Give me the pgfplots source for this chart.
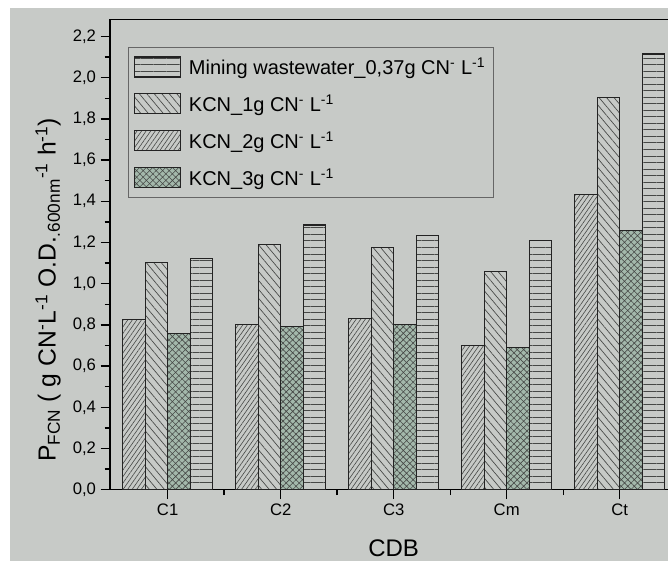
\documentclass[border=0pt]{standalone}
\usepackage{pgfplots}
\pgfplotsset{compat=1.18}
\usetikzlibrary{patterns.meta}
\usepackage{fontspec}
\setmainfont{Liberation Sans}
\definecolor{bg}{RGB}{199,202,199}
\definecolor{xfill}{RGB}{163,184,171}
\definecolor{hl}{RGB}{70,72,70}
\definecolor{edge}{RGB}{35,35,35}
\begin{document}
\begin{tikzpicture}
\useasboundingbox (0,0) rectangle (501pt,420.75pt);
\fill[white] (0,0) rectangle (501pt,420.75pt);
\fill[bg] (7.5pt,0) rectangle (501pt,414.75pt);
\clip (0,0) rectangle (501pt,420.75pt);
\begin{axis}[
  at={(82.5pt,53.5pt)}, anchor=south west,
  scale only axis, width=425.5pt, height=352.7pt,
  xmin=-0.51, xmax=4.51, ymin=0, ymax=2.283,
  axis line style={line width=1.1pt, black},
  xtick={0,1,2,3,4}, xticklabels={C1,C2,C3,Cm,Ct},
  minor xtick={0.5,1.5,2.5,3.5},
  ytick={0,0.2,0.4,0.6,0.8,1.0,1.2,1.4,1.6,1.8,2.0,2.2},
  minor ytick={0.1,0.3,0.5,0.7,0.9,1.1,1.3,1.5,1.7,1.9,2.1},
  tick align=outside, xtick pos=left, ytick pos=left,
  major tick length=7pt, minor tick length=4pt,
  every tick/.style={line width=1pt, black},
  every minor tick/.style={line width=1pt, black},
  yticklabel style={/pgf/number format/.cd, fixed, fixed zerofill, precision=1, use comma, assume math mode=true},
  every tick label/.append style={font=\fontsize{12.5}{14}\selectfont},
  xlabel={CDB},
  every axis x label/.style={at={(axis description cs:0.5,0)}, anchor=center, yshift=-44pt, font=\fontsize{18}{20}\selectfont},
  ylabel={P\textsubscript{FCN} ( g CN\textsuperscript{-}L\textsuperscript{-1} O.D.\textsubscript{.600nm}\textsuperscript{-1} h\textsuperscript{-1})},
  every axis y label/.style={at={(axis description cs:-0.109,0.425)}, rotate=90, anchor=center, font=\fontsize{18.5}{20}\selectfont},
  legend style={at={(axis description cs:0.0317,0.941)}, anchor=north west, draw=black!60, fill=none, line width=0.8pt,
    font=\fontsize{15}{18}\selectfont, row sep=9.75pt, column sep=4pt, inner xsep=4pt, inner ysep=5.5pt, cells={anchor=west}},
  mylegend/.style={legend image code/.code={\draw[##1] (0pt,-7.5pt) rectangle (34.5pt,7.5pt);}},
]
\addplot[ybar, bar width=0.2, bar shift=0.3, draw=edge, line width=0.8pt,
  pattern={Lines[angle=0,distance=4.9pt,line width=0.6pt]}, pattern color=hl, mylegend]
  coordinates {(0,1.12) (1,1.285) (2,1.235) (3,1.21) (4,2.115)};
\addlegendentry{Mining wastewater\_0,37g CN\textsuperscript{-} L\textsuperscript{-1}}
\addplot[ybar, bar width=0.2, bar shift=-0.1, draw=edge, line width=0.8pt,
  pattern={Lines[angle=-50,distance=4.3pt,line width=0.5pt]}, pattern color=hl, mylegend]
  coordinates {(0,1.105) (1,1.19) (2,1.175) (3,1.06) (4,1.906)};
\addlegendentry{KCN\_1g CN\textsuperscript{-} L\textsuperscript{-1}}
\addplot[ybar, bar width=0.2, bar shift=-0.3, draw=edge, line width=0.8pt,
  pattern={Lines[angle=55,distance=2.8pt,line width=0.45pt]}, pattern color=hl, mylegend]
  coordinates {(0,0.827) (1,0.80) (2,0.83) (3,0.70) (4,1.432)};
\addlegendentry{KCN\_2g CN\textsuperscript{-} L\textsuperscript{-1}}
\addplot[ybar, bar width=0.2, bar shift=0.1, draw=edge, line width=0.8pt,
  fill=xfill, postaction={pattern={Hatch[angle=45,distance=3.45pt,line width=0.45pt]}, pattern color=hl}, mylegend]
  coordinates {(0,0.757) (1,0.79) (2,0.80) (3,0.69) (4,1.259)};
\addlegendentry{KCN\_3g CN\textsuperscript{-} L\textsuperscript{-1}}
\end{axis}
\end{tikzpicture}
\end{document}
